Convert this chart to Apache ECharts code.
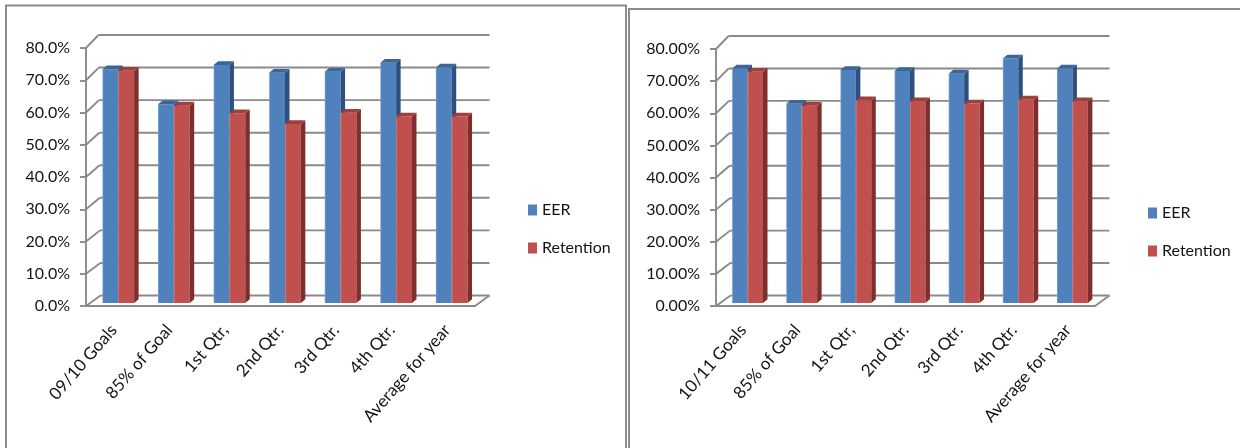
<!DOCTYPE html>
<html>
<head>
<meta charset="utf-8">
<script src="https://cdn.jsdelivr.net/npm/echarts@6/dist/echarts.min.js"></script>
<style>
  html, body { margin: 0; padding: 0; background: #ffffff; }
  #chart { width: 1240px; height: 448px; }
</style>
</head>
<body>
<div id="chart"></div>
<script>
// Categories for each school year
const categoriesA = ['09/10 Goals', '85% of Goal', '1st Qtr,', '2nd Qtr.', '3rd Qtr.', '4th Qtr.', 'Average for year'];
const categoriesB = ['10/11 Goals', '85% of Goal', '1st Qtr,', '2nd Qtr.', '3rd Qtr.', '4th Qtr.', 'Average for year'];

// Percent values
const eerA       = [72.5, 61.6, 73.8, 71.4, 71.7, 74.5, 73.0];
const retentionA = [72.0, 61.2, 58.8, 55.5, 59.0, 57.8, 57.8];
const eerB       = [73.0, 62.0, 72.5, 72.2, 71.4, 76.1, 73.0];
const retentionB = [72.0, 61.4, 63.1, 62.8, 62.1, 63.3, 62.8];

// Value axis ticks (percent)
const yTicks = [0, 10, 20, 30, 40, 50, 60, 70, 80];
const seriesNames = ['EER', 'Retention'];

const FONT = 'Lato, "Liberation Sans", sans-serif';
const TEXT_COLOR = '#141414';
const GRID_COLOR = '#8a8a8a';
const PALETTE = [
  { front: '#4F81BD', side: '#2E5080', top: '#3D6598', edge: '#86a8d6' },
  { front: '#C0504D', side: '#7E2E2C', top: '#A0403D', edge: '#d98886' }
];

// Perspective offsets of the back wall for a given value (0..80)
function wallDx(v) { return 14.5 - 2 * v / 80; }
function wallDy(v) { return -10.5 - 2.5 * v / 80; }

// Back wall, side wall and floor lines
function renderWall(params, api) {
  const cs = params.coordSys;
  const v = api.value(1);
  const y = api.coord([0, v])[1];
  const x0 = cs.x, x1 = cs.x + cs.width;
  const dx = wallDx(v), dy = wallDy(v);
  const style = { stroke: GRID_COLOR, lineWidth: 1.9, fill: null };
  const children = [
    { type: 'line', shape: { x1: x0, y1: y, x2: x0 + dx, y2: y + dy }, style: style },
    { type: 'line', shape: { x1: x0 + dx, y1: y + dy, x2: x1 + wallDx(0), y2: y + dy }, style: style }
  ];
  if (v === 0) {
    children.push({ type: 'line', shape: { x1: x1, y1: y, x2: x1 + dx, y2: y + dy }, style: style });
  }
  return { type: 'group', children: children };
}

// 3D-looking column: front face, side face and top face
function makeBarRenderer(pairIndex) {
  const col = PALETTE[pairIndex];
  return function (params, api) {
    const band = api.size([1, 0])[0];
    const bw = band * 0.285;
    const shiftX = 4.5, shiftY = -3;
    const ddx = 4.5, ddy = -3.8;
    const top = api.coord([api.value(0), api.value(1)]);
    const base = api.coord([api.value(0), 0]);
    const cx = top[0] + shiftX;
    const x = pairIndex === 0 ? cx - bw : cx;
    const yT = top[1] + shiftY;
    const yB = base[1] + shiftY;
    return {
      type: 'group',
      children: [
        {
          type: 'rect',
          shape: { x: x, y: yT, width: bw, height: yB - yT },
          style: {
            fill: new echarts.graphic.LinearGradient(0, 0, 1, 0, [
              { offset: 0, color: col.edge },
              { offset: 0.08, color: col.front },
              { offset: 1, color: col.front }
            ])
          }
        },
        {
          type: 'polygon',
          shape: { points: [[x + bw, yT], [x + bw + ddx, yT + ddy], [x + bw + ddx, yB + ddy], [x + bw, yB]] },
          style: { fill: col.side }
        },
        {
          type: 'polygon',
          shape: { points: [[x, yT], [x + ddx, yT + ddy], [x + bw + ddx, yT + ddy], [x + bw, yT]] },
          style: { fill: col.top }
        }
      ]
    };
  };
}

function toPairs(arr) { return arr.map((v, i) => [i, v]); }

function xAxisFor(cats, gridIndex) {
  return {
    type: 'category', gridIndex: gridIndex, data: cats,
    boundaryGap: true,
    axisLine: { lineStyle: { color: GRID_COLOR, width: 1.9 } },
    axisTick: { length: 6, lineStyle: { color: GRID_COLOR, width: 1.9 } },
    axisLabel: { rotate: 49, margin: 21, color: TEXT_COLOR, fontFamily: FONT, fontSize: 17, interval: 0 },
    splitLine: { show: false }
  };
}

function yAxisFor(gridIndex, digits) {
  return {
    type: 'value', gridIndex: gridIndex, min: 0, max: 80, interval: 10,
    axisLine: { show: true, lineStyle: { color: GRID_COLOR, width: 1.9 } },
    axisTick: { show: true, length: 6, lineStyle: { color: GRID_COLOR, width: 1.9 } },
    axisLabel: {
      margin: 16, color: TEXT_COLOR, fontFamily: FONT, fontSize: 16,
      formatter: v => v.toFixed(digits) + '%'
    },
    splitLine: { show: false }
  };
}

function chartSeries(gridIndex, eer, retention) {
  return [
    {
      type: 'custom', name: 'wall', xAxisIndex: gridIndex, yAxisIndex: gridIndex,
      data: yTicks.map(v => [0, v]), renderItem: renderWall, silent: true, z: 1, clip: false
    },
    {
      type: 'custom', name: seriesNames[0], xAxisIndex: gridIndex, yAxisIndex: gridIndex,
      data: toPairs(eer), renderItem: makeBarRenderer(0), itemStyle: { color: PALETTE[0].front }, z: 3, clip: false
    },
    {
      type: 'custom', name: seriesNames[1], xAxisIndex: gridIndex, yAxisIndex: gridIndex,
      data: toPairs(retention), renderItem: makeBarRenderer(1), itemStyle: { color: PALETTE[1].front }, z: 4, clip: false
    }
  ];
}

function legendAt(left, top) {
  return {
    data: seriesNames, left: left, top: top, orient: 'vertical', padding: 0,
    icon: 'rect', itemWidth: 9, itemHeight: 11, itemGap: 20,
    textStyle: { fontFamily: FONT, fontSize: 16, color: TEXT_COLOR, lineHeight: 18 },
    selectedMode: false
  };
}

const chart = echarts.init(document.getElementById('chart'), null, { renderer: 'canvas' });
chart.setOption({
  animation: false,
  backgroundColor: '#ffffff',
  graphic: [
    { type: 'rect', shape: { x: 6, y: 5.5, width: 620, height: 470 }, style: { fill: null, stroke: '#8c8c8c', lineWidth: 2 }, z: 0 },
    { type: 'rect', shape: { x: 629, y: 9, width: 640, height: 470 }, style: { fill: null, stroke: '#8c8c8c', lineWidth: 2 }, z: 0 }
  ],
  grid: [
    { left: 86, top: 48, width: 389, height: 258 },
    { left: 716, top: 49, width: 379, height: 257 }
  ],
  xAxis: [xAxisFor(categoriesA, 0), xAxisFor(categoriesB, 1)],
  yAxis: [yAxisFor(0, 1), yAxisFor(1, 2)],
  legend: [legendAt(528, 201), legendAt(1148, 204)],
  series: chartSeries(0, eerA, retentionA).concat(chartSeries(1, eerB, retentionB))
});
</script>
</body>
</html>
